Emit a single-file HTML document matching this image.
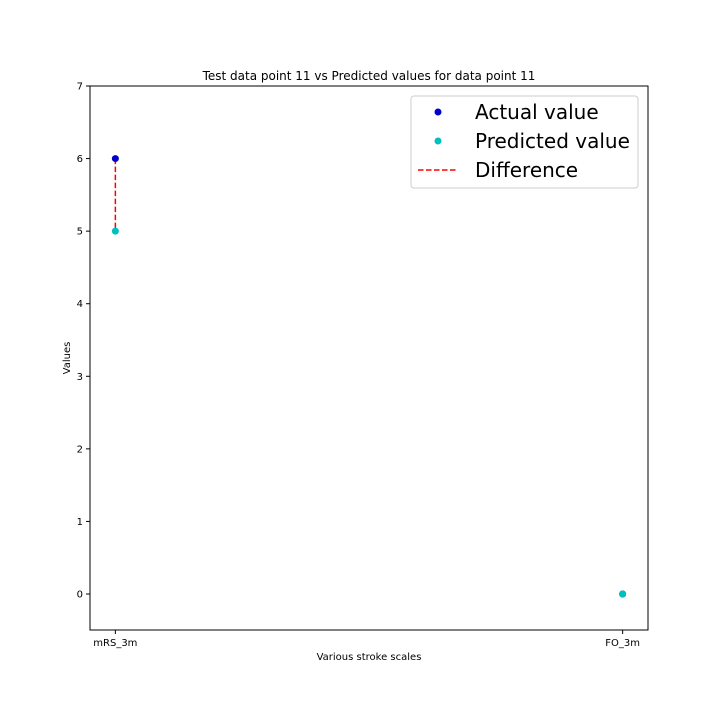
<!DOCTYPE html>
<html><head><meta charset="utf-8"><style>
body{margin:0;background:#fff;font-family:"Liberation Sans","DejaVu Sans",sans-serif}
svg text{font-family:"DejaVu Sans","Liberation Sans",sans-serif}
</style></head><body>
<svg id="chart" width="720" height="720">
<rect x="0" y="0" width="720" height="720" fill="#fff"/>
<text x="369" y="80" font-size="12" text-anchor="middle">Test data point 11 vs Predicted values for data point 11</text>
<g id="yticks"></g><g id="xticks"></g><g id="marks"></g>
<rect x="90" y="86" width="558" height="544" fill="none" stroke="#000" stroke-width="1"/>
<text x="369" y="660" font-size="10" text-anchor="middle">Various stroke scales</text>
<text transform="translate(70,358) rotate(-90)" font-size="10" text-anchor="middle">Values</text>
<g>
<rect x="411" y="96" width="227" height="92" rx="3" fill="#fff" stroke="#ccc"/>
<circle cx="438" cy="112" r="3.5" fill="#0000cc"/>
<text x="475" y="119" font-size="20">Actual value</text>
<circle cx="438" cy="141" r="3.5" fill="#00bfbf"/>
<text x="475" y="148" font-size="20">Predicted value</text>
<line x1="418" y1="170" x2="458" y2="170" stroke="red" stroke-width="1.5" stroke-dasharray="5.5,2.5"/>
<text x="475" y="177" font-size="20">Difference</text>
</g>
</svg>
<script>
const categories=["mRS_3m","FO_3m"];
const actual=[6,0];
const predicted=[5,0];
const yTicks=[0,1,2,3,4,5,6,7];
const NS="http://www.w3.org/2000/svg";
const x=i=>90+(i+0.05)/1.1*558;
const y=v=>594-v*508/7;
function mk(t,a,p){const e=document.createElementNS(NS,t);for(const k in a)e.setAttribute(k,a[k]);document.getElementById(p).appendChild(e);return e;}
yTicks.forEach(v=>{
 const l=mk('line',{x1:86,x2:90,y1:y(v),y2:y(v),stroke:'#000'},'yticks');
 
 
 const t=mk('text',{x:83,y:y(v)+3.5,'font-size':10,'text-anchor':'end'},'yticks');t.textContent=v;
 
 
});
categories.forEach((c,i)=>{
 const l=mk('line',{x1:x(i),x2:x(i),y1:630,y2:634,stroke:'#000'},'xticks');
 
 
 const t=mk('text',{x:x(i),y:646,'font-size':10,'text-anchor':'middle'},'xticks');t.textContent=c;
 
 
 const d=mk('line',{x1:x(i),x2:x(i),y1:y(actual[i]),y2:y(predicted[i]),stroke:'red','stroke-width':1.5,'stroke-dasharray':'5.5,2.5'},'marks');
 
 
 const a=mk('circle',{cx:x(i),cy:y(actual[i]),r:3.5,fill:'#0000cc'},'marks');
 
 
 const p=mk('circle',{cx:x(i),cy:y(predicted[i]),r:3.5,fill:'#00bfbf'},'marks');
 
 
});
</script>
</body></html>
